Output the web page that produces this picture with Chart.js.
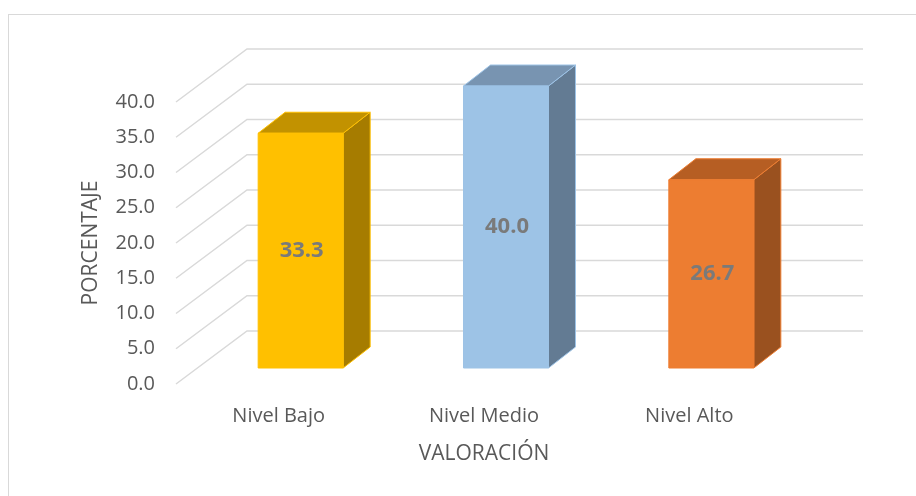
<!DOCTYPE html>
<html lang="es">
<head>
<meta charset="UTF-8">
<title>Valoración - Porcentaje</title>
<script src="https://cdn.jsdelivr.net/npm/chart.js@4.4.0/dist/chart.umd.min.js"></script>
<style>
  html, body { margin: 0; padding: 0; background: #fff; }
</style>
</head>
<body>
<canvas id="chart" width="916" height="496"></canvas>
<script>
const categories = ['Nivel Bajo', 'Nivel Medio', 'Nivel Alto'];
const porcentajes = [33.3, 40.0, 26.7];
const yTicks = [0, 5, 10, 15, 20, 25, 30, 35, 40];

const frontColors = ['#FFC000', '#9DC3E6', '#ED7D31'];
const sideColors = ['#A67C00', '#637B93', '#9A511F'];
const topColors = ['#C29200', '#7894B1', '#B65E23'];

// oblique offsets for the fake 3d (floor depth, bar front, bar depth)
const FULL = { x: 71, y: -53 };
const FRONT = { x: 22, y: -16 };
const DEPTH = { x: 27, y: -21 };

function poly(ctx, pts, fill, stroke) {
    ctx.beginPath();
    ctx.moveTo(pts[0][0], pts[0][1]);
    for (let i = 1; i < pts.length; i++) ctx.lineTo(pts[i][0], pts[i][1]);
    ctx.closePath();
    ctx.fillStyle = fill;
    ctx.fill();
    ctx.strokeStyle = stroke;
    ctx.stroke();
}

const box3d = {
    id: 'box3d',
    beforeDraw(chart) {
        const ctx = chart.ctx;
        ctx.save();
        ctx.strokeStyle = '#d9d9d9';
        ctx.lineWidth = 1;
        ctx.strokeRect(8.5, 14.5, 1000, 1000);
        ctx.restore();
    },
    beforeDatasetsDraw(chart) {
        const { ctx, chartArea: a, scales: { y } } = chart;
        ctx.save();
        // side wall + back wall grid
        ctx.strokeStyle = '#d9d9d9';
        ctx.lineWidth = 1.5;
        yTicks.forEach(v => {
            const py = y.getPixelForValue(v);
            ctx.beginPath();
            ctx.moveTo(a.left, py);
            ctx.lineTo(a.left + FULL.x, py + FULL.y);
            ctx.lineTo(a.right + FULL.x, py + FULL.y);
            ctx.stroke();
        });
        // bars as boxes
        ctx.lineWidth = 1;
        ctx.lineJoin = 'round';
        chart.getDatasetMeta(0).data.forEach((bar, i) => {
            const p = bar.getProps(['x', 'y', 'base', 'width'], true);
            const l = p.x - p.width / 2 + FRONT.x, r = p.x + p.width / 2 + FRONT.x;
            const t = p.y + FRONT.y, b = p.base + FRONT.y;
            poly(ctx, [[r, t], [r + DEPTH.x, t + DEPTH.y], [r + DEPTH.x, b + DEPTH.y], [r, b]], sideColors[i], frontColors[i]);
            poly(ctx, [[l, t], [l + DEPTH.x, t + DEPTH.y], [r + DEPTH.x, t + DEPTH.y], [r, t]], topColors[i], frontColors[i]);
            poly(ctx, [[l, t], [r, t], [r, b], [l, b]], frontColors[i], frontColors[i]);
        });
        ctx.restore();
        return false;
    },
    afterDraw(chart) {
        const ctx = chart.ctx;
        ctx.save();
        ctx.font = 'bold 22px "Open Sans"';
        ctx.fillStyle = '#7a7a7a';
        ctx.textAlign = 'center';
        ctx.textBaseline = 'middle';
        chart.getDatasetMeta(0).data.forEach((bar, i) => {
            const p = bar.getProps(['x', 'y', 'base'], true);
            const cy = (p.y + p.base) / 2 + FRONT.y;
            ctx.fillText(porcentajes[i].toFixed(1), p.x + FRONT.x + 1, cy);
        });
        ctx.restore();
    }
};

Chart.defaults.font.family = '"Open Sans", sans-serif';
Chart.defaults.font.size = 20;
Chart.defaults.color = '#595959';

new Chart(document.getElementById('chart'), {
    type: 'bar',
    data: {
        labels: categories,
        datasets: [{
            label: 'Porcentaje',
            data: porcentajes,
            backgroundColor: frontColors,
            categoryPercentage: 1,
            barPercentage: 0.414
        }]
    },
    options: {
        responsive: false,
        animation: false,
        layout: { padding: { top: 102, right: 124, bottom: 0, left: 0 } },
        plugins: { legend: { display: false }, tooltip: { enabled: false } },
        scales: {
            x: {
                grid: { display: false, drawTicks: false },
                border: { display: false },
                ticks: { padding: 20 },
                title: { display: true, text: 'VALORACIÓN', font: { size: 21 }, padding: { top: 0, bottom: 29 } },
                afterFit(s) { s.height = 112; }
            },
            y: {
                min: 0,
                max: 40,
                afterBuildTicks(s) { s.ticks = yTicks.map(v => ({ value: v })); },
                ticks: { padding: 21, callback: v => v.toFixed(1) },
                grid: { display: false, drawTicks: false },
                border: { display: false },
                title: { display: true, text: 'PORCENTAJE', font: { size: 21 }, padding: { top: 78, bottom: 0 } },
                afterFit(s) { s.width = 176; }
            }
        }
    },
    plugins: [box3d]
});
</script>
</body>
</html>
